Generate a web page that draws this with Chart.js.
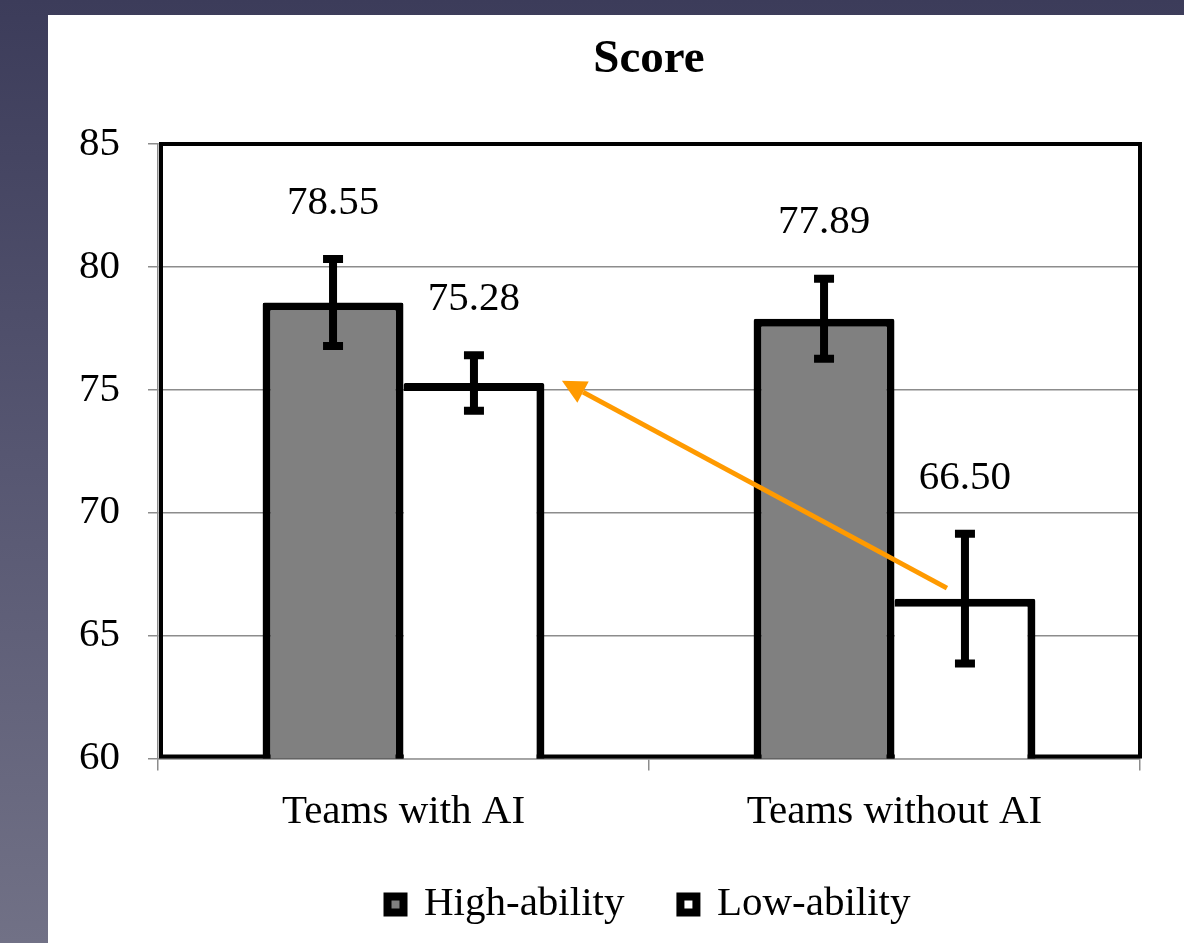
<!DOCTYPE html>
<html lang="en">
<head>
  <meta charset="UTF-8">
  <title>Score</title>
  <script src="https://cdn.jsdelivr.net/npm/chart.js"></script>
  <style>
    html, body { margin: 0; padding: 0; }
    body {
      width: 1184px; height: 943px; overflow: hidden; position: relative;
      background: linear-gradient(to bottom, #3c3c5a 0%, #575772 50%, #717186 100%);
    }
    #panel { position: absolute; left: 48px; top: 15px; width: 1136px; height: 928px; background: #fff; }
  </style>
</head>
<body>
  <div id="panel"><canvas id="scoreChart"></canvas></div>

  <script>
    const categories = ['Teams with AI', 'Teams without AI'];
    const seriesNames = ['High-ability', 'Low-ability'];
    const highScores = [78.55, 77.89];
    const lowScores = [75.28, 66.50];
    const highErrors = [1.77, 1.63];
    const lowErrors = [1.13, 2.64];
    const yTicks = [60, 65, 70, 75, 80, 85];
    // arrow drawn from low-ability without AI towards low-ability with AI
    const arrowValues = [66.93, 75.37];

    const serif = '"Liberation Serif", "Times New Roman", serif';
    Chart.defaults.font.family = serif;
    Chart.defaults.color = '#000';

    const errorsBySeries = [highErrors, lowErrors];

    // frame, error bars, value labels and the orange arrow
    const scoreMarks = {
      id: 'scoreMarks',
      beforeDatasetsDraw(chart) {
        const { ctx, chartArea: a } = chart;
        ctx.save();
        ctx.strokeStyle = '#000';
        ctx.lineWidth = 4;
        ctx.strokeRect(a.left + 3, a.top, a.right - a.left - 3, a.bottom - a.top - 2);
        ctx.restore();
      },
      afterDatasetsDraw(chart) {
        const { ctx } = chart;
        const y = chart.scales.y;
        ctx.save();
        chart.data.datasets.forEach((ds, d) => {
          const meta = chart.getDatasetMeta(d);
          meta.data.forEach((bar, i) => {
            const v = ds.data[i];
            const err = errorsBySeries[d][i];
            const top = y.getPixelForValue(v + err);
            const bottom = y.getPixelForValue(v - err);
            ctx.strokeStyle = '#000';
            ctx.lineWidth = 8;
            ctx.lineCap = 'butt';
            ctx.beginPath();
            ctx.moveTo(bar.x, top); ctx.lineTo(bar.x, bottom);
            ctx.moveTo(bar.x - 10, top); ctx.lineTo(bar.x + 10, top);
            ctx.moveTo(bar.x - 10, bottom); ctx.lineTo(bar.x + 10, bottom);
            ctx.stroke();

            ctx.fillStyle = '#000';
            ctx.font = '41px ' + serif;
            ctx.textAlign = 'center';
            ctx.textBaseline = 'middle';
            ctx.fillText(v.toFixed(2), bar.x, top - 56);
          });
        });

        const lowMeta = chart.getDatasetMeta(1);
        const target = lowMeta.data[0];
        const source = lowMeta.data[1];
        const x0 = source.x - 18, y0 = y.getPixelForValue(arrowValues[0]);
        const x1 = target.x + target.width / 2 + 17.5, y1 = y.getPixelForValue(arrowValues[1]);
        const ang = Math.atan2(y1 - y0, x1 - x0);
        const headLen = 24, headHalf = 12;
        const bx = x1 - headLen * Math.cos(ang), by = y1 - headLen * Math.sin(ang);
        ctx.strokeStyle = '#ff9a00';
        ctx.fillStyle = '#ff9a00';
        ctx.lineWidth = 5;
        ctx.beginPath();
        ctx.moveTo(x0, y0); ctx.lineTo(bx, by);
        ctx.stroke();
        ctx.beginPath();
        ctx.moveTo(x1, y1);
        ctx.lineTo(bx + headHalf * Math.sin(ang), by - headHalf * Math.cos(ang));
        ctx.lineTo(bx - headHalf * Math.sin(ang), by + headHalf * Math.cos(ang));
        ctx.closePath();
        ctx.fill();
        ctx.restore();
      }
    };

    const ctx = document.getElementById('scoreChart').getContext('2d');
    const scoreChart = new Chart(ctx, {
      type: 'bar',
      data: {
        labels: categories,
        datasets: [{
          label: seriesNames[0],
          data: highScores,
          backgroundColor: '#808080',
          borderColor: '#000',
          borderWidth: 8,
          borderSkipped: false,
          borderRadius: 2
        }, {
          label: seriesNames[1],
          data: lowScores,
          backgroundColor: '#fff',
          borderColor: '#000',
          borderWidth: { top: 8, right: 8, bottom: 8, left: 0 },
          borderSkipped: false,
          borderRadius: 2
        }]
      },
      options: {
        responsive: true,
        maintainAspectRatio: false,
        animation: false,
        layout: { padding: { left: 0, right: 44, top: 0, bottom: 8 } },
        datasets: { bar: { categoryPercentage: 0.574, barPercentage: 1 } },
        scales: {
          x: {
            offset: true,
            grid: { drawOnChartArea: false, offset: true, tickLength: 12, color: '#8c8c8c', lineWidth: 1.5 },
            border: { color: '#8c8c8c', width: 1.5 },
            ticks: { color: '#000', font: { size: 41 }, padding: 17 },
            afterFit(scale) { scale.height = 69.5; }
          },
          y: {
            min: 60,
            max: 85,
            afterBuildTicks(scale) { scale.ticks = yTicks.map(v => ({ value: v })); },
            ticks: { color: '#000', font: { size: 41 }, padding: 28 },
            grid: { color: '#8c8c8c', lineWidth: 1.5, tickLength: 10 },
            border: { color: '#8c8c8c', width: 1.5 },
            afterFit(scale) { scale.width = 110; }
          }
        },
        plugins: {
          title: {
            display: true,
            text: 'Score',
            fullSize: false,
            color: '#000',
            font: { size: 47, weight: 'bold' },
            padding: { top: 17, bottom: 55.6 }
          },
          legend: {
            position: 'bottom',
            fullSize: false,
            maxHeight: 116.5,
            labels: {
              color: '#000',
              font: { size: 41 },
              boxWidth: 16,
              boxHeight: 16,
              padding: 56,
              generateLabels(chart) {
                const items = Chart.defaults.plugins.legend.labels.generateLabels(chart);
                items.forEach(item => { item.lineWidth = 8; });
                return items;
              }
            }
          },
          tooltip: { enabled: false }
        }
      },
      plugins: [scoreMarks]
    });
  </script>
</body>
</html>
